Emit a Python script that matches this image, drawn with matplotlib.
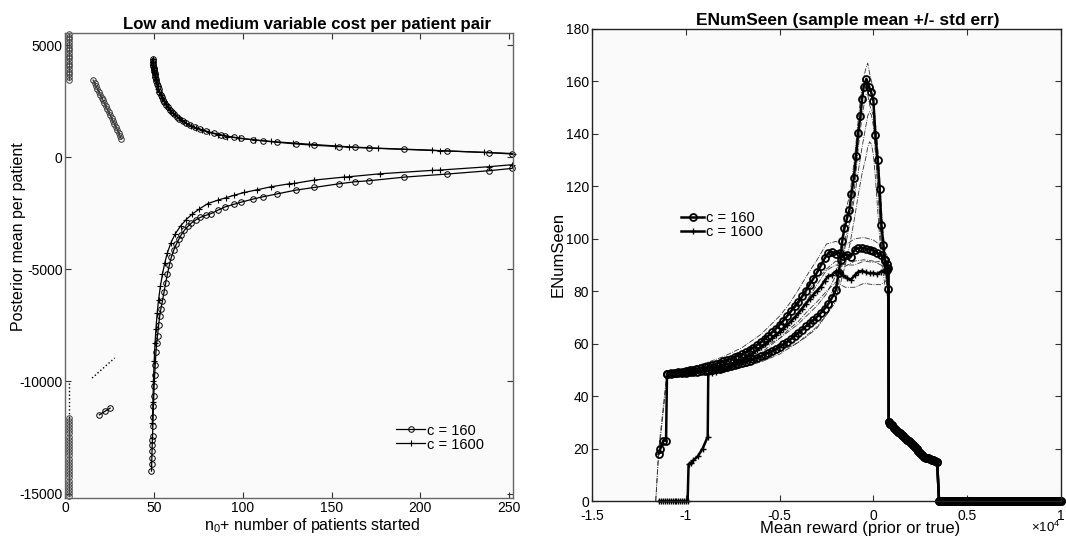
import matplotlib
matplotlib.use("Agg")
import matplotlib.pyplot as plt
import numpy as np
from matplotlib.ticker import FuncFormatter

plt.rcParams['font.family'] = ['Liberation Sans', 'DejaVu Sans']
plt.rcParams['axes.unicode_minus'] = False
plt.rcParams['mathtext.fontset'] = 'custom'
plt.rcParams['mathtext.rm'] = 'Liberation Sans'
plt.rcParams['mathtext.it'] = 'Liberation Sans'

# ---------------- left panel: posterior mean per patient ----------------
# c = 160, upper branch
up160_x = [49.2, 49.3, 49.4, 49.5, 49.6, 49.7, 49.8, 50.0, 50.2, 50.4, 50.6, 50.9, 51.2, 51.6, 52.0,
           52.5, 53.0, 53.6, 54.3, 55.0, 55.8, 56.7, 57.7, 58.8, 60.0, 61.3, 62.7, 64.2, 66.0, 68.0,
           70.2, 72.8, 76.0, 79.5, 84.0, 87.5, 90.0, 95.2, 99.0, 105.5, 111.1, 119.5, 129.8, 140.1,
           154.1, 163.1, 170.9, 191.1, 214.9, 238.6, 251.7]
up160_y = [4390, 4300, 4220, 4140, 4060, 3990, 3930, 3850, 3760, 3680, 3600, 3500, 3400, 3280, 3170,
           3040, 2920, 2800, 2680, 2570, 2460, 2350, 2240, 2130, 2020, 1920, 1820, 1720, 1620, 1530,
           1440, 1350, 1260, 1170, 1075, 1010, 965, 895, 850, 790, 740, 670, 600, 540,
           480, 440, 415, 355, 285, 210, 150]
# c = 1600, upper branch
up1600_x = [49.2, 49.35, 49.5, 49.7, 49.9, 50.1, 50.3, 50.6, 51.0, 51.4, 51.9, 52.4, 53.0, 53.8, 54.6,
            55.5, 56.5, 57.7, 59.0, 60.5, 62.0, 63.8, 65.8, 68.0, 70.5, 73.5, 77.0, 81.0, 86.0, 91.3,
            98.0, 107.0, 116.0, 128.0, 137.0, 152.0, 160.0, 176.0, 206.4, 211.1, 236.0, 252.0]
up1600_y = [4390, 4270, 4140, 3990, 3880, 3800, 3720, 3600, 3450, 3320, 3180, 3050, 2920, 2770, 2630,
            2500, 2380, 2240, 2110, 1980, 1870, 1760, 1650, 1530, 1420, 1310, 1210, 1110, 1010, 930,
            850, 770, 710, 640, 590, 510, 470, 410, 320, 300, 225, 170]
# c = 160, lower branch
lo160_x = [48.5, 48.6, 48.7, 48.8, 48.9, 49.0, 49.1, 49.25, 49.4, 49.6, 49.8, 50.0, 50.3, 50.6, 51.0,
           51.4, 51.9, 52.5, 53.1, 53.8, 54.7, 55.6, 56.5, 57.5, 58.6, 59.7, 61.0, 62.5, 64.0, 65.3,
           67.0, 69.0, 71.0, 73.5, 76.0, 79.0, 82.1, 85.9, 90.0, 95.2, 99.0, 105.5, 111.1, 119.5,
           129.8, 140.1, 154.1, 163.1, 170.9, 191.1, 214.9, 238.6, 251.7]
lo160_y = [-14000, -13700, -13400, -13100, -12850, -12620, -12430, -12000, -11600, -11100, -10650,
           -10190, -9700, -9250, -8700, -8300, -7955, -7500, -7100, -6750, -6400, -6000, -5600, -5200,
           -4800, -4450, -4150, -3870, -3640, -3450, -3260, -3080, -2930, -2790, -2680, -2590, -2508,
           -2360, -2210, -2090, -2000, -1866, -1762, -1627, -1463, -1344, -1180, -1090, -1045, -881,
           -746, -597, -493]
# c = 1600, lower branch
lo1600_x = [49.0, 49.3, 49.6, 50.0, 50.5, 51.0, 51.7, 52.5, 53.5, 54.7, 56.0, 57.5, 59.5, 62.0, 65.0,
            68.0, 71.5, 75.5, 80.3, 85.9, 90.5, 95.2, 100.8, 107.9, 115.8, 126.1, 128.9, 140.1, 156.9,
            159.7, 177.5, 206.4, 211.1, 238.6, 251.7]
lo1600_y = [-11840, -10900, -10000, -9100, -8300, -7650, -6950, -6350, -5750, -5200, -4700, -4250,
            -3800, -3400, -3050, -2780, -2530, -2300, -2060, -1911, -1800, -1687, -1568, -1448, -1314,
            -1180, -1164, -1015, -881, -866, -732, -582, -567, -418, -328]
# small groups near the left edge
col_top_x = [2.0] * 18
col_top_y = [5500, 5380, 5260, 5140, 5020, 4900, 4780, 4660, 4540, 4420, 4300, 4180, 4060, 3940,
             3820, 3700, 3580, 3460]
col_bot_x = [2.0] * 26
col_bot_y = [-11620, -11760, -11900, -12040, -12180, -12320, -12460, -12600, -12740, -12880, -13020,
             -13160, -13300, -13440, -13580, -13720, -13860, -14000, -14140, -14280, -14420, -14560,
             -14700, -14840, -14980, -15100]
diag_x = [15.6, 16.4, 17.2, 18.0, 18.8, 19.6, 20.4, 21.2, 22.0, 22.8, 23.6, 24.4, 25.2, 26.0, 26.8,
          27.6, 28.4, 29.2, 30.0, 30.8, 31.5]
diag_y = [3450, 3320, 3190, 3060, 2930, 2800, 2670, 2540, 2410, 2280, 2150, 2020, 1890, 1760, 1630,
          1500, 1370, 1240, 1100, 960, 815]
trio_x = [19.1, 22.1, 25.2]
trio_y = [-11490, -11340, -11190]
dot_vert_x = [2.0, 2.0]
dot_vert_y = [-10050, -11620]
dot_diag_x = [15.0, 27.7]
dot_diag_y = [-9850, -8955]

# ---------------- right panel: ENumSeen ----------------
# c = 160, run A (peaked curve)
a_x = ([-11450, -11350, -11200, -11050] + list(np.arange(-11000, -1999, 200)) +
       [-1850, -1750, -1660, -1543, -1400, -1277, -1170, -1046, -920, -814, -691, -601, -516,
        -372, -229, -122, 0, 106, 229, 335, 426, 532, 600, 700, 800])
a_y = ([18, 20, 23, 23] +
       [48.5, 48.6, 48.7, 48.8, 48.9, 49.0, 49.1, 49.2, 49.3, 49.4, 49.6, 49.8, 50.0, 50.2, 50.5,
        50.8, 51.1, 51.4, 51.8, 52.2, 52.6, 53.0, 53.5, 54.0, 54.6, 55.2, 55.8, 56.5, 57.2, 58.0,
        58.8, 59.7, 60.7, 61.8, 63.0, 64.2, 65.4, 66.6, 67.8, 69.0, 70.3, 71.7, 73.3, 75.2, 77.6,
        80.5] +
       [87, 92, 99, 104, 108, 111, 117, 123, 131.5, 140.3, 146.7, 153.4, 158, 161, 158, 156, 152.5,
        139.7, 130, 119, 105.3, 97.7, 92, 88, 81])
# c = 160, run B (plateau near 96)
b_x = list(np.arange(-11000, 601, 200)) + [700, 800]
b_y = [48.5, 48.7, 48.9, 49.1, 49.3, 49.5, 49.8, 50.1, 50.4, 50.7,
       51.0, 51.4, 51.8, 52.2, 52.7, 53.2, 53.7, 54.2, 54.8, 55.4,
       56.0, 56.8, 57.6, 58.5, 59.5, 60.6, 61.8, 63.0, 64.3, 65.7,
       67.2, 68.8, 70.5, 72.3, 74.2, 76.0, 78.0, 80.2, 82.5, 84.8,
       87.2, 89.8, 92.5, 94.6, 95.0, 94.2, 94.5, 93.6, 94.0, 93.2,
       95.8, 96.4, 96.5, 96.2, 95.8, 95.5, 94.6, 93.8, 92.0, 90.5, 89]
# c = 1600
c_x = (list(np.arange(-11400, -9899, 100)) + [-9850, -9730, -9600, -9360, -9100, -8830] +
       list(np.arange(-8800, 601, 200)) + [700, 800])
c_y = ([0] * 16 + [14, 14.5, 15.5, 17, 20, 24.5] +
       [48.5, 48.9, 49.3, 49.8, 50.3, 50.9, 51.5, 52.2, 52.9, 53.7,
        54.6, 55.5, 56.5, 57.6, 58.7, 59.8, 60.9, 62.0, 63.2, 64.4,
        65.7, 67.0, 68.5, 70.0, 71.6, 73.4, 75.2, 77.0, 78.7, 80.2,
        81.8, 84.0, 85.8, 86.2, 87.6, 87.2, 86.0, 85.0, 84.4, 86.0,
        87.4, 87.8, 87.2, 86.8, 87.0, 86.5, 87.5, 88.0] + [88.8, 88])
# shared tail after the drop
tail_x = [820] + list(range(900, 3401, 100)) + list(range(3500, 10001, 100))
tail_y = ([30, 29.5, 28.8, 28, 27.2, 26.5, 25.8, 25.2, 24.6, 24, 23.3, 22.7, 22, 21.3, 20.6, 19.8,
           19, 18.2, 17.4, 16.9, 16.5, 16.3, 16, 15.8, 15.5, 15.3, 15.0] + [0] * 66)

# +/- std err bands
ab_x = [-11600, -11450, -11000, -10000, -9000, -8000, -7000, -6000, -5000, -4000, -3500, -3000,
        -2500, -2000, -1750, -1500, -1250, -1000, -800, -600, -400, -300, -200, -100, 0, 100, 200,
        300, 400, 500, 600, 700, 800, 820]
a_hi = [0, 19, 49.5, 50, 51, 52.5, 55, 58, 62, 67.5, 71, 74.5, 79, 86, 96, 110, 117, 131, 146, 159,
        165, 167, 163, 160, 157, 145, 138, 128, 115, 104, 97, 91, 85, 31]
a_lo = [0, 17, 47.5, 48, 48.5, 49.5, 51, 53, 56, 60.5, 63.5, 66.5, 71, 76, 87, 100, 107, 120, 135,
        147, 155, 155, 151, 149, 147, 134, 124, 113, 100, 93, 87, 84, 77, 29]
db_x = [-11000, -10000, -9000, -8000, -7000, -6000, -5000, -4000, -3500, -3000, -2500, -2000, -1750,
        -1500, -1250, -1000, -800, -600, -400, -300, -200, -100, 0, 100, 200, 300, 400, 500, 600,
        700, 800, 820]
d_hi = [48.5, 49, 50, 51.5, 53.5, 56, 59.5, 63.5, 66.5, 70, 75.5, 83, 89, 97, 106, 116, 126, 135,
        143, 147, 148.5, 147, 143, 134, 123, 112, 101, 93, 87, 83, 79, 30]
d_lo = [48, 48.5, 49.2, 50.5, 52, 54, 57, 60.5, 63, 66, 71, 77.5, 83, 90, 98, 108, 117, 125, 131,
        135, 137, 136, 132, 124, 114, 104, 95, 88, 83, 79, 76, 29]
bb_x = [-11000, -10000, -9000, -8000, -7000, -6000, -5000, -4500, -4000, -3500, -3000, -2500, -2000,
        -1500, -1000, -500, 0, 400, 700, 800]
b_hi = [49, 50.5, 52.5, 55, 58.5, 63.5, 70.5, 75, 80.5, 86.5, 92, 98, 99, 97.5, 100, 100.5, 99.5,
        97.5, 94, 92]
b_lo = [48, 48.8, 49.8, 51.5, 54, 58, 64, 67.5, 72, 77, 82.5, 88, 90, 89.5, 91.5, 92, 91.5, 90, 87,
        86]
cb_x = [-8800, -8000, -7000, -6000, -5000, -4500, -4000, -3500, -3000, -2500, -2000, -1500, -1000,
        -500, 0, 400, 700, 800]
c_hi = [49, 51.5, 55.5, 61, 67, 71, 75, 80, 84.5, 88.5, 91.5, 90, 90, 91.5, 91, 91.5, 93, 92]
c_lo = [48, 49.2, 52, 56.5, 62, 65.5, 68.5, 72.5, 76, 80, 83.5, 81.5, 81.5, 83, 82.5, 82.5, 84, 84]

fig = plt.figure(figsize=(10.66, 5.39), dpi=100)
ax1 = fig.add_axes([0.0614, 0.0761, 0.4194, 0.8627])
ax2 = fig.add_axes([0.5553, 0.0705, 0.4400, 0.8757])

circ = dict(color='k', lw=0.9, marker='o', ms=4, mfc='none', mec='k', mew=0.7)
plus = dict(color='k', lw=0.9, marker='+', ms=5, mew=0.8)

ax1.plot(col_top_x, col_top_y, clip_on=False, **dict(circ, mec='#444444', color='#444444'))
ax1.plot(col_bot_x, col_bot_y, clip_on=False, **dict(circ, mec='#444444', color='#444444'))
ax1.plot(diag_x, diag_y, **dict(circ, mec='#333333', color='#333333'))
ax1.plot(trio_x, trio_y, **circ)
ax1.plot(dot_vert_x, dot_vert_y, color='k', lw=1.0, ls=':')
ax1.plot(dot_diag_x, dot_diag_y, color='k', lw=1.0, ls=':')
ax1.plot(up1600_x, up1600_y, clip_on=False, **plus)
ax1.plot(lo1600_x, lo1600_y, clip_on=False, **plus)
ax1.plot(up160_x, up160_y, label='c = 160', clip_on=False, **circ)
ax1.plot(lo160_x, lo160_y, clip_on=False, **circ)
ax1.plot([], [], label='c = 1600', **plus)

ax1.set_xlim(0, 252)
ax1.set_ylim(-15200, 5550)
ax1.set_xticks([0, 50, 100, 150, 200, 250])
ax1.set_yticks([-15000, -10000, -5000, 0, 5000])
ax1.set_title('Low and medium variable cost per patient pair', fontsize=12.1, fontweight='bold',
              pad=3, x=0.54)
ax1.set_xlabel(r'n$_0$+ number of patients started', fontsize=11.5, labelpad=0)
ax1.xaxis.set_label_coords(0.551, -0.038, transform=ax1.transAxes)
ax1.xaxis.label.set_va('top')
ax1.set_ylabel('Posterior mean per patient', fontsize=11.5, labelpad=2)
ax1.yaxis.set_label_coords(-0.088, 0.563, transform=ax1.transAxes)
ax1.legend(loc='upper left', bbox_to_anchor=(0.74, 0.16), frameon=False, fontsize=10.5,
           handlelength=2.0, handletextpad=0.1, labelspacing=0.0, borderpad=0, borderaxespad=0)

band = dict(color='#333333', lw=0.6, ls='-.')
ax2.plot(ab_x, a_hi, **band)
ax2.plot(ab_x, a_lo, **band)
ax2.plot(db_x, d_hi, **band)
ax2.plot(db_x, d_lo, **band)
ax2.plot(bb_x, b_hi, **band)
ax2.plot(bb_x, b_lo, **band)
ax2.plot(cb_x, c_hi, **band)
ax2.plot(cb_x, c_lo, **band)

mcirc = dict(color='k', lw=1.8, marker='o', ms=5, mfc='none', mec='k', mew=1.3)
mplus = dict(color='k', lw=1.8, marker='+', ms=4, mew=1.0)
ax2.plot(list(c_x) + tail_x, list(c_y) + tail_y, clip_on=False, **mplus)
ax2.plot(list(b_x) + tail_x, list(b_y) + tail_y, clip_on=False, **mcirc)
ax2.plot(list(a_x) + tail_x, list(a_y) + tail_y, label='c = 160', clip_on=False, **mcirc)
ax2.plot([], [], label='c = 1600', **mplus)

ax2.set_xlim(-15000, 10000)
ax2.set_ylim(0, 180)
ax2.set_xticks([-15000, -10000, -5000, 0, 5000, 10000])
ax2.set_yticks(range(0, 181, 20))
ax2.xaxis.set_major_formatter(FuncFormatter(lambda v, p: f'{v / 1e4:g}'))
ax2.text(0.935, -0.056, r'$\times$10$^4$', transform=ax2.transAxes, fontsize=9.5, va='center')
ax2.set_title('ENumSeen (sample mean +/- std err)', fontsize=12.5, fontweight='bold', pad=3,
              x=0.546)
ax2.set_xlabel('Mean reward (prior or true)', fontsize=12, labelpad=0)
ax2.xaxis.set_label_coords(0.571, -0.043, transform=ax2.transAxes)
ax2.xaxis.label.set_va('top')
ax2.set_ylabel('ENumSeen', fontsize=12, labelpad=2)
ax2.yaxis.set_label_coords(-0.057, 0.523, transform=ax2.transAxes)
ax2.legend(loc='upper left', bbox_to_anchor=(0.19, 0.615), frameon=False, fontsize=10.5,
           handlelength=1.6, handletextpad=0.1, labelspacing=0.0, borderpad=0, borderaxespad=0)

for ax, sc in ((ax1, '#666666'), (ax2, '#222222')):
    ax.set_facecolor('#fafafa')
    for s in ax.spines.values():
        s.set_color(sc)
        s.set_linewidth(1.0)
    ax.tick_params(direction='in', top=True, right=True, labelsize=10, length=4, pad=2,
                   color='#333333')
ax2.tick_params(axis='x', pad=5.5)

fig.savefig('out.png', dpi=100)
